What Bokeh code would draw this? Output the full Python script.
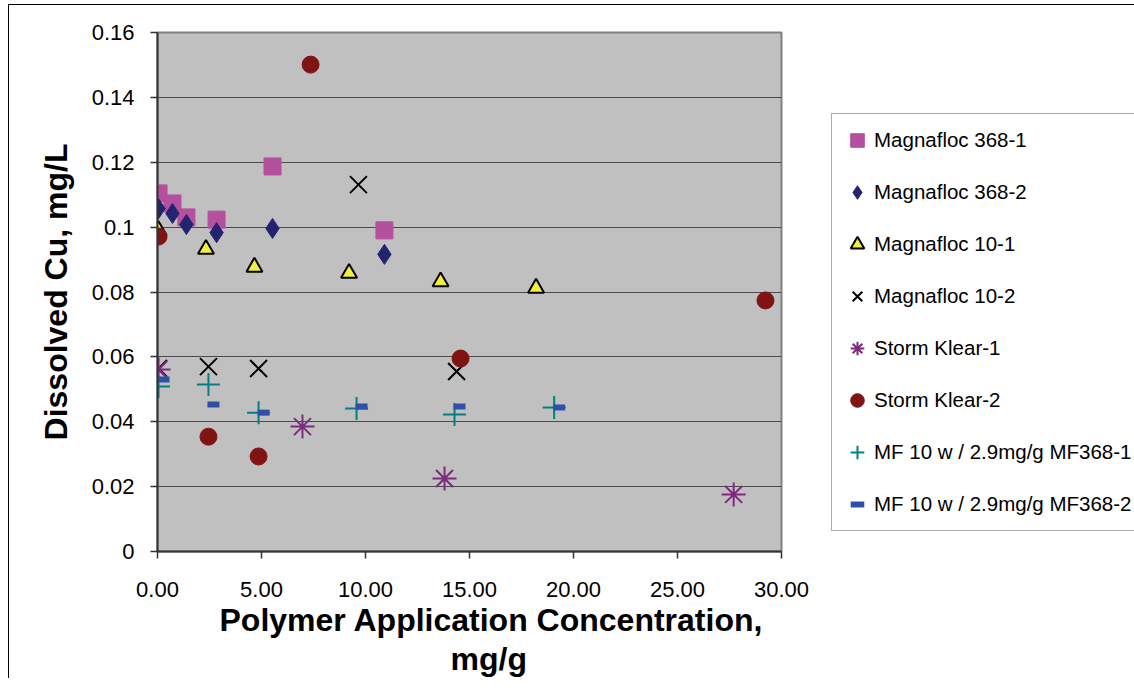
from bokeh.plotting import figure
from bokeh.models import (Range1d, FixedTicker, Legend, LegendItem, Title)
from bokeh.embed import file_html
from bokeh.resources import INLINE

# ---------------- data ----------------
series_names = ["Magnafloc 368-1", "Magnafloc 368-2", "Magnafloc 10-1", "Magnafloc 10-2",
                "Storm Klear-1", "Storm Klear-2", "MF 10 w / 2.9mg/g MF368-1",
                "MF 10 w / 2.9mg/g MF368-2"]

mf368_1_x = [0.05, 0.72, 1.39, 2.84, 5.53, 10.91]
mf368_1_y = [0.1104, 0.1073, 0.1030, 0.1023, 0.1187, 0.0990]

mf368_2_x = [0.05, 0.72, 1.39, 2.84, 5.53, 10.91]
mf368_2_y = [0.1057, 0.1042, 0.1008, 0.0983, 0.0996, 0.0916]

mf10_1_x = [0.05, 2.33, 4.66, 9.21, 13.61, 18.20]
mf10_1_y = [0.0990, 0.0932, 0.0877, 0.0858, 0.0832, 0.0812]

mf10_2_x = [0.05, 2.45, 4.86, 9.66, 14.38]
mf10_2_y = [0.0564, 0.0570, 0.0564, 0.1131, 0.0555]

sk1_x = [0.05, 6.97, 13.80, 27.70]
sk1_y = [0.0561, 0.0385, 0.0225, 0.0176]

sk2_x = [0.05, 2.45, 4.86, 7.36, 14.57, 29.23]
sk2_y = [0.0971, 0.0354, 0.0293, 0.1501, 0.0595, 0.0774]

mfw1_x = [0.05, 2.45, 4.86, 9.57, 14.28, 19.07]
mfw1_y = [0.0509, 0.0515, 0.0428, 0.0441, 0.0422, 0.0444]

mfw2_x = [0.29, 2.69, 5.10, 9.81, 14.52, 19.31]
mfw2_y = [0.0530, 0.0453, 0.0428, 0.0447, 0.0447, 0.0444]

x_ticks = [0, 5, 10, 15, 20, 25, 30]
x_tick_labels = ["0.00", "5.00", "10.00", "15.00", "20.00", "25.00", "30.00"]
y_ticks = [0, 0.02, 0.04, 0.06, 0.08, 0.1, 0.12, 0.14, 0.16]
y_tick_labels = ["0", "0.02", "0.04", "0.06", "0.08", "0.1", "0.12", "0.14", "0.16"]

x_title_1 = "Polymer Application Concentration,"
x_title_2 = "mg/g"
y_title = "Dissolved Cu, mg/L"

FONT = "Liberation Sans"

# ---------------- figure ----------------
p = figure(frame_width=624, frame_height=519, output_backend="svg", toolbar_location=None,
           x_range=Range1d(0, 30), y_range=Range1d(0, 0.16),
           min_border_left=148, min_border_right=0,
           min_border_top=27, min_border_bottom=6)
p.styles = {"margin-left": "8px", "margin-top": "4px",
            "border-style": "solid none none solid",
            "border-width": "1px 0px 0px 1px", "border-color": "black"}

p.background_fill_color = "#C0C0C0"
p.border_fill_color = "white"
p.outline_line_color = "#808080"
p.outline_line_width = 2

p.xgrid.grid_line_color = None
p.ygrid.grid_line_color = "#4a4a4a"
p.ygrid.grid_line_width = 1
p.ygrid.ticker = FixedTicker(ticks=y_ticks)

for ax in (p.xaxis[0], p.yaxis[0]):
    ax.axis_line_color = "#333333"
    ax.axis_line_width = 2
    ax.major_tick_line_color = "#333333"
    ax.major_tick_line_width = 1.5
    ax.major_tick_in = 0
    ax.major_tick_out = 7
    ax.minor_tick_line_color = None
    ax.major_label_text_font = FONT
    ax.major_label_text_font_size = "22px"
    ax.major_label_text_color = "black"

p.xaxis.ticker = FixedTicker(ticks=x_ticks)
p.xaxis.major_label_overrides = dict(zip(x_ticks, x_tick_labels))
p.xaxis.major_label_standoff = 23

p.yaxis.ticker = FixedTicker(ticks=y_ticks)
p.yaxis.major_label_overrides = dict(zip(y_ticks, y_tick_labels))
p.yaxis.major_label_standoff = 16
p.yaxis.axis_label = y_title
p.yaxis.axis_label_text_font = FONT
p.yaxis.axis_label_text_font_size = "32px"
p.yaxis.axis_label_text_font_style = "bold"
p.yaxis.axis_label_text_color = "black"
p.yaxis.axis_label_standoff = 15

# ---------------- series ----------------
r1 = p.scatter(mf368_1_x, mf368_1_y, marker="square", size=17,
               fill_color="#B4509E", line_color="#B4509E")
r2 = p.scatter(mf368_2_x, mf368_2_y, marker="diamond", size=20,
               fill_color="#232370", line_color="#232370")
r3 = p.scatter(mf10_1_x, mf10_1_y, marker="triangle", size=16,
               fill_color="#F2F03C", line_color="black", line_width=2)
r4 = p.scatter(mf10_2_x, mf10_2_y, marker="x", size=24,
               line_color="black", line_width=2)
r5 = p.scatter(sk1_x, sk1_y, marker="asterisk", size=24,
               line_color="#7E2A7E", line_width=2)
r6 = p.scatter(sk2_x, sk2_y, marker="circle", size=17,
               fill_color="#801414", line_color="#801414")
r7 = p.scatter(mfw1_x, mfw1_y, marker="cross", size=23,
               line_color="#008080", line_width=2)
r8 = p.scatter(mfw2_x, mfw2_y, marker="dash", size=12,
               line_color="#3050A8", line_width=6)

renderers = [r1, r2, r3, r4, r5, r6, r7, r8]
items = [LegendItem(label=n, renderers=[r]) for n, r in zip(series_names, renderers)]
legend = Legend(items=items, location=(50, 20),
                label_text_font=FONT, label_text_font_size="20.5px",
                label_text_color="black",
                glyph_width=34, glyph_height=36, label_height=36,
                label_standoff=-2, spacing=16, padding=8, margin=0,
                border_line_color="#555555", border_line_width=1.5,
                background_fill_color="white", background_fill_alpha=1)
p.add_layout(legend, "right")

# ---------------- x axis title (two lines) ----------------
p.add_layout(Title(text=x_title_1, align="left", offset=62,
                   text_font=FONT, text_font_size="32px", text_font_style="bold",
                   text_color="black", standoff=0), "below")
p.add_layout(Title(text=x_title_2, align="left", offset=293,
                   text_font=FONT, text_font_size="32px", text_font_style="bold",
                   text_color="black", standoff=3), "below")

open("out.html", "w").write(file_html(p, INLINE))
